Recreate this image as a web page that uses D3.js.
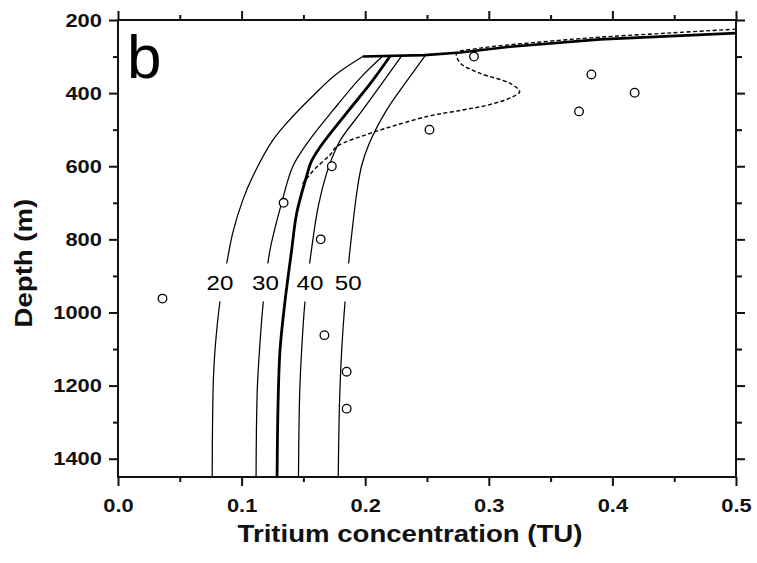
<!DOCTYPE html>
<html>
<head>
<meta charset="utf-8">
<script src="https://cdn.jsdelivr.net/npm/d3@7"></script>
<style>
  body { margin: 0; background: #fff; }
  text { font-family: "Liberation Sans", Arial, sans-serif; }
</style>
</head>
<body>
<div id="chart"></div>
<script>
// axis ticks
var xTicks = [0, 0.1, 0.2, 0.3, 0.4, 0.5]
var xMinor = [0.05, 0.15, 0.25, 0.35, 0.45]
var yTicks = [200, 400, 600, 800, 1000, 1200, 1400]
var yMinor = [300, 500, 700, 900, 1100, 1300]

// shared surface segment [conc, depth]
var topLine = [[0.5,236],[0.39,253],[0.317,273],[0.277,289],[0.248,296],[0.198,300]]

// model curves, labelled by the parameter value
var curve20 = [[0.198,300],[0.176,350],[0.157,410],[0.137,480],[0.125,530],[0.109,628],[0.101,692],[0.093,780],[0.088,865],[0.0825,970],[0.0785,1102],[0.0772,1180],[0.0765,1300],[0.0762,1450]]
var curve30 = [[0.2146,298],[0.197,355],[0.1742,446],[0.155,528],[0.1415,600],[0.1327,697],[0.123,829],[0.1176,970],[0.1145,1102],[0.1128,1200],[0.112,1320],[0.1117,1450]]
var curve35 = [[0.2205,297],[0.205,370],[0.187,446],[0.163,550],[0.156,590],[0.1525,628],[0.1446,728],[0.1405,829],[0.1351,970],[0.1311,1102],[0.1295,1250],[0.1287,1450]]
var curve40 = [[0.2295,298],[0.198,446],[0.18,528],[0.1735,575],[0.1688,619],[0.162,710],[0.1565,829],[0.1513,970],[0.1486,1102],[0.147,1220],[0.146,1450]]
var curve50 = [[0.2484,298],[0.2362,355],[0.2174,446],[0.203,540],[0.197,600],[0.1935,665],[0.1877,829],[0.1837,970],[0.181,1102],[0.1792,1250],[0.1782,1450]]

var curveLabels = ["20", "30", "40", "50"]
var labelConc = [0.0825, 0.1193, 0.1553, 0.1863]
var labelDepth = 918

// dashed profile
var dashedLine = [[0.5,225],[0.449,235],[0.39,247],[0.336,262],[0.293,277],[0.274,291],[0.277,318],[0.293,346],[0.317,373],[0.325,396],[0.318,412],[0.30,432],[0.279,446],[0.25,464],[0.212,501],[0.204,510],[0.177,546],[0.1715,569],[0.16,605],[0.153,632],[0.149,650]]

// measured tritium
var obsConc  = [0.288, 0.383, 0.418, 0.373, 0.252, 0.173, 0.134, 0.164, 0.036, 0.167, 0.185, 0.185]
var obsDepth = [300, 349, 399, 450, 500, 600, 700, 800, 962, 1062, 1162, 1263]

var W = 757, H = 563
var svg = d3.select("#chart").append("svg")
  .attr("width", W).attr("height", H)

var x = d3.scaleLinear().domain([0, 0.5]).range([118, 736])
var y = d3.scaleLinear().domain([200, 1450]).range([20, 477])

var line = d3.line()
  .x(function(d){ return x(d[0]) })
  .y(function(d){ return y(d[1]) })
var smooth = d3.line()
  .x(function(d){ return x(d[0]) })
  .y(function(d){ return y(d[1]) })
  .curve(d3.curveCatmullRom.alpha(0.5))

// curves
svg.append("path").datum(topLine)
  .attr("d", line).attr("fill", "none")
  .attr("stroke", "#000").attr("stroke-width", 2.6)
var thin = [curve20, curve30, curve40, curve50]
thin.forEach(function(c){
  svg.append("path").datum(c)
    .attr("d", smooth).attr("fill", "none")
    .attr("stroke", "#000").attr("stroke-width", 1.25)
})
svg.append("path").datum(curve35)
  .attr("d", smooth).attr("fill", "none")
  .attr("stroke", "#000").attr("stroke-width", 2.8)
svg.append("path").datum(dashedLine)
  .attr("d", smooth).attr("fill", "none")
  .attr("stroke", "#000").attr("stroke-width", 1.4)
  .attr("stroke-dasharray", "4,2.5")

// curve labels with white gap
var lab = svg.selectAll(".clab").data(curveLabels).enter().append("g")
  .attr("class", "clab")
  .attr("transform", function(d, i){ return "translate(" + x(labelConc[i]) + "," + y(labelDepth) + ")" })
lab.append("rect")
  .attr("x", -14).attr("y", -19).attr("width", 28).attr("height", 38)
  .attr("fill", "#fff")
lab.append("text")
  .attr("text-anchor", "middle")
  .attr("y", 7.5)
  .attr("transform", "scale(1.15,1)")
  .style("font-size", "21px")
  .text(function(d){ return d })

// observations
svg.selectAll(".obs").data(obsConc).enter().append("circle")
  .attr("class", "obs")
  .attr("cx", function(d){ return x(d) })
  .attr("cy", function(d, i){ return y(obsDepth[i]) })
  .attr("r", 4.3)
  .attr("fill", "#fff").attr("stroke", "#000").attr("stroke-width", 1.3)

// axes
function styleAxis(g){
  g.select(".domain").remove()
  g.selectAll("line").attr("stroke", "#111").attr("stroke-width", 2)
}
var bottom = svg.append("g").attr("transform", "translate(0," + y(1450) + ")")
  .call(d3.axisBottom(x).tickValues(xTicks).tickSize(9).tickFormat(d3.format(".1f")))
bottom.call(styleAxis)
bottom.selectAll("text").attr("dy", null).attr("y", 35)
svg.append("g").attr("transform", "translate(0," + y(1450) + ")")
  .call(d3.axisBottom(x).tickValues(xMinor).tickSize(5).tickFormat("")).call(styleAxis)
svg.append("g").attr("transform", "translate(0," + y(200) + ")")
  .call(d3.axisTop(x).tickValues(xTicks).tickSize(9).tickFormat("")).call(styleAxis)
svg.append("g").attr("transform", "translate(0," + y(200) + ")")
  .call(d3.axisTop(x).tickValues(xMinor).tickSize(5).tickFormat("")).call(styleAxis)

var left = svg.append("g").attr("transform", "translate(" + x(0) + ",0)")
  .call(d3.axisLeft(y).tickValues(yTicks).tickSize(9).tickFormat(d3.format("d")))
left.call(styleAxis)
left.selectAll("text").attr("x", -14)
svg.append("g").attr("transform", "translate(" + x(0) + ",0)")
  .call(d3.axisLeft(y).tickValues(yMinor).tickSize(5).tickFormat("")).call(styleAxis)
svg.append("g").attr("transform", "translate(" + x(0.5) + ",0)")
  .call(d3.axisRight(y).tickValues(yTicks).tickSize(9).tickFormat("")).call(styleAxis)
svg.append("g").attr("transform", "translate(" + x(0.5) + ",0)")
  .call(d3.axisRight(y).tickValues(yMinor).tickSize(6).tickFormat("")).call(styleAxis)

svg.selectAll(".tick text")
  .attr("fill", "#111")
  .style("font-size", "19px").style("font-weight", "bold")
  .attr("transform", "scale(1.15,1)")

// frame
svg.append("rect")
  .attr("x", x(0)).attr("y", y(200))
  .attr("width", x(0.5) - x(0)).attr("height", y(1450) - y(200))
  .attr("fill", "none").attr("stroke", "#111").attr("stroke-width", 2)

// titles
svg.append("text")
  .attr("transform", "translate(" + ((x(0) + x(0.5)) / 2 - 17) + ",542) scale(1.2,1)")
  .attr("text-anchor", "middle")
  .style("font-size", "23px").style("font-weight", "bold")
  .attr("fill", "#111")
  .text("Tritium concentration (TU)")
svg.append("text")
  .attr("transform", "translate(32," + y(865) + ") rotate(-90) scale(1.2,1)")
  .attr("text-anchor", "middle")
  .style("font-size", "23px").style("font-weight", "bold")
  .attr("fill", "#111")
  .text("Depth (m)")

svg.append("text")
  .attr("x", 127).attr("y", 78)
  .style("font-size", "62px")
  .text("b")
</script>
</body>
</html>
